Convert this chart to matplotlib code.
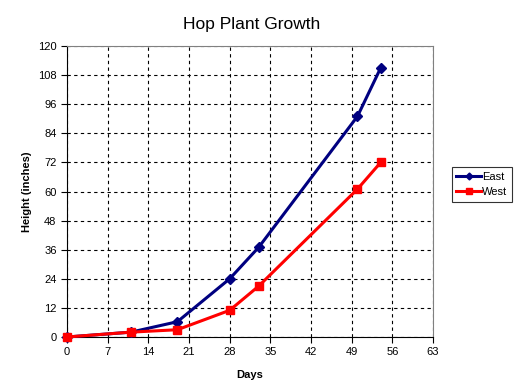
import matplotlib
matplotlib.use('Agg')
import matplotlib.pyplot as plt

# Data
days = [0, 11, 19, 28, 33, 50, 54]
east = [0, 2, 6.3, 24, 37, 91, 111]
west = [0, 2, 3, 11, 21, 61, 72]

plt.rcParams['font.family'] = ['Liberation Sans', 'DejaVu Sans']

fig = plt.figure(figsize=(5.27, 3.9), dpi=100)
ax = fig.add_axes([67 / 527, 1 - 337 / 390, 366 / 527, 291 / 390])

ax.plot(days, east, color='#000080', linewidth=2.2, marker='D', markersize=5,
        label='East', clip_on=False, zorder=3)
ax.plot(days, west, color='#ff0000', linewidth=2.2, marker='s', markersize=6,
        label='West', clip_on=False, zorder=4)

ax.set_xlim(0, 63)
ax.set_ylim(0, 120)
ax.set_xticks(range(0, 64, 7))
ax.set_yticks(range(0, 121, 12))
ax.grid(True, color='black', linestyle=(0, (3, 3)), linewidth=0.8)
ax.set_axisbelow(True)

ax.tick_params(axis='both', labelsize=8, length=4, width=0.8, direction='out')
for side in ['top', 'right']:
    ax.spines[side].set_color('#808080')
for side in ['left', 'bottom']:
    ax.spines[side].set_color('black')

ax.set_xlabel('Days', fontsize=8, fontweight='bold', labelpad=9)
ax.set_ylabel('Height (inches)', fontsize=8, fontweight='bold', labelpad=4)
fig.text(252 / 527, 1 - 24 / 390, 'Hop Plant Growth', fontsize=12.5,
         ha='center', va='center')

leg = ax.legend(loc='center left', bbox_to_anchor=(1.052, 0.524), fontsize=8,
                frameon=True, fancybox=False, edgecolor='black',
                handlelength=2.2, handletextpad=0.1, borderpad=0.4,
                labelspacing=0.5, markerscale=0.7, borderaxespad=0)
leg.get_frame().set_linewidth(0.8)

fig.savefig('out.png', dpi=100)
